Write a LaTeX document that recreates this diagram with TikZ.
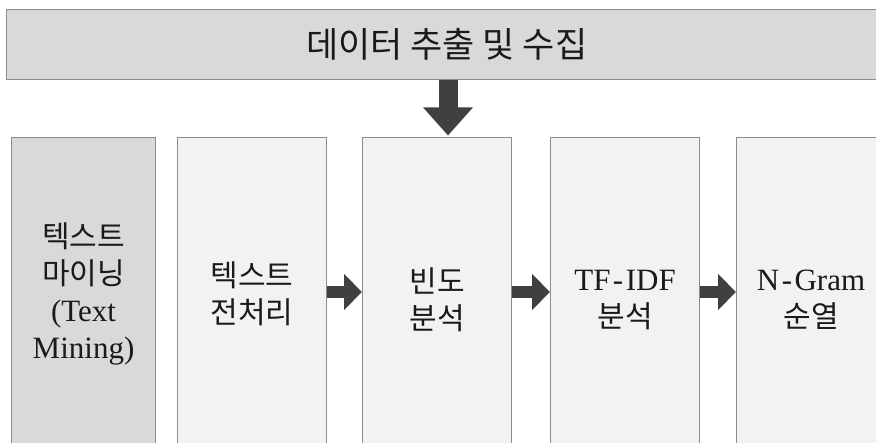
\documentclass[tikz,border=0pt]{standalone}
\usepackage{fontspec}
\setmainfont{Liberation Serif}
\newfontfamily\kr{Noto Sans CJK KR}
\usetikzlibrary{arrows.meta}
\definecolor{boxdark}{HTML}{D9D9D9}
\definecolor{boxlight}{HTML}{F2F2F2}
\definecolor{edgec}{HTML}{8C8C8C}
\definecolor{arrowc}{HTML}{404040}
\definecolor{textc}{HTML}{1A1A1A}
\newcommand{\lat}[1]{{\normalfont\fontsize{31}{37}\selectfont #1}}
\newcommand{\hy}{\kern2.5pt-\kern2.5pt}
\begin{document}
\begin{tikzpicture}[x=1pt,y=-1pt,
  stagebox/.style={draw=edgec, line width=1.1pt, fill=boxlight, inner sep=0pt,
    anchor=north west, minimum width=149pt, minimum height=313pt, align=center,
    text=textc, font=\kr\fontsize{30}{37}\selectfont},
  lowtext/.style={minimum height=325pt},
  topbox/.style={draw=edgec, line width=1.3pt, fill=boxdark, inner sep=0pt,
    anchor=north west, minimum width=880pt, minimum height=70pt,
    text=textc, font=\kr\fontsize{35}{40}\selectfont},
  rarrow/.style={draw=arrowc, line width=11.5pt, -{Triangle[width=35pt,length=18pt]}},
  darrow/.style={draw=arrowc, line width=19pt, -{Triangle[width=48pt,length=28pt]}}]
\useasboundingbox (0,0) rectangle (876,443);
\fill[white] (0,0) rectangle (876,443);
\clip (0,0) rectangle (876,443);

\node[topbox] (top) at (6,9) {데이터 추출 및 수집};

\node[stagebox, fill=boxdark, minimum width=144pt] (b1) at (11,137)
  {텍스트\\마이닝\\\lat{(Text}\\\lat{Mining)}};
\node[stagebox] (b2) at (177,137) {텍스트\\전처리};
\node[stagebox, lowtext] (b3) at (362,137) {빈도\\분석};
\node[stagebox, lowtext] (b4) at (550,137) {\lat{TF\hy IDF}\\분석};
\node[stagebox, lowtext] (b5) at (736,137) {\lat{N\hy Gram}\\순열};

\coordinate (ax) at (448,0);
\coordinate (ay) at (0,292);
\draw[darrow, shorten >=1.5pt] (top.south -| ax) -- (b3.north -| ax);
\draw[rarrow] (b2.east |- ay) -- (b3.west |- ay);
\draw[rarrow] (b3.east |- ay) -- (b4.west |- ay);
\draw[rarrow] (b4.east |- ay) -- (b5.west |- ay);
\end{tikzpicture}
\end{document}
